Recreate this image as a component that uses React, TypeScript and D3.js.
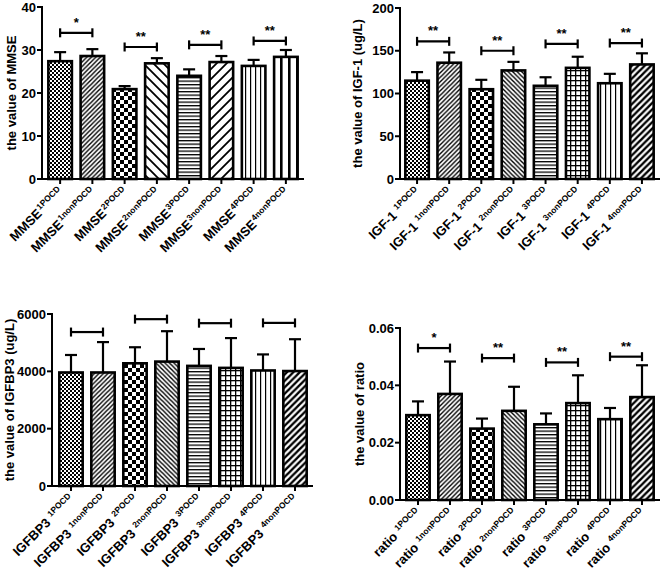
import React from "react";
import * as d3 from "d3";

const groups = ["1POCD", "1nonPOCD", "2POCD", "2nonPOCD", "3POCD", "3nonPOCD", "4POCD", "4nonPOCD"];

const mmseMean = [27.4, 28.6, 20.9, 26.9, 24.0, 27.2, 26.3, 28.4];
const mmseErr = [29.5, 30.2, 21.6, 28.1, 25.5, 28.6, 27.7, 30.0];
const mmseBrackets = [34.0, 30.7, 31.2, 32.1];
const mmseStars = ["*", "**", "**", "**"];
const mmseTicks = [0, 10, 20, 30, 40];

const igfMean = [115, 136, 105, 127, 109, 130, 112, 134];
const igfErr = [125, 148, 116, 137, 119, 143, 123, 147];
const igfBrackets = [161, 150, 158, 159];
const igfStars = ["**", "**", "**", "**"];
const igfTicks = [0, 50, 100, 150, 200];

const bp3Mean = [3960, 3960, 4280, 4340, 4190, 4120, 4030, 4010];
const bp3Err = [4570, 5020, 4840, 5400, 4780, 5160, 4590, 5120];
const bp3Brackets = [5370, 5820, 5680, 5690];
const bp3Stars = ["", "", "", ""];
const bp3Ticks = [0, 2000, 4000, 6000];

const ratioMean = [0.0296, 0.0370, 0.0249, 0.0311, 0.0264, 0.0338, 0.0282, 0.0359];
const ratioErr = [0.0344, 0.0483, 0.0284, 0.0395, 0.0302, 0.0435, 0.0321, 0.0470];
const ratioBrackets = [0.0530, 0.0495, 0.0480, 0.0500];
const ratioStars = ["*", "**", "**", "**"];
const ratioTicks = [0, 0.02, 0.04, 0.06];

const FONT = "'Liberation Sans', Arial, Helvetica, sans-serif";
const LABEL_SIZE = 13;
const SUP_SIZE = 8.5;
const R = Math.SQRT1_2;

const SUP_EM: Record<string, number> = {
  "1": 0.556, "2": 0.556, "3": 0.556, "4": 0.556, P: 0.667, O: 0.778, C: 0.722, D: 0.722, n: 0.611, o: 0.611,
};
function measure(text: string, size: number): number {
  let w = 0;
  for (const ch of text) w += SUP_EM[ch] ?? 0.6;
  return w * size;
}

type PanelProps = {
  id: string;
  prefix: string;
  sep: number;
  title: string;
  mean: number[];
  err: number[];
  brackets: number[];
  stars: string[];
  ticks: number[];
  fmt: (v: number) => string;
  axisX: number;
  x0: number;
  x1: number;
  yBottom: number;
  yTop: number;
  titleX: number;
  patterns: string[];
};

function Diag({ id, w, sw, back }: { id: string; w: number; sw: number; back?: boolean }) {
  const d = back
    ? `M${-w / 2},${w / 2} L${w / 2},${1.5 * w} M0,0 L${w},${w} M${w / 2},${-w / 2} L${1.5 * w},${w / 2}`
    : `M${-w / 2},${w / 2} L${w / 2},${-w / 2} M0,${w} L${w},0 M${w / 2},${1.5 * w} L${1.5 * w},${w / 2}`;
  return (
    <pattern id={id} width={w} height={w} patternUnits="userSpaceOnUse">
      <rect width={w} height={w} fill="#fff" />
      <path d={d} stroke="#000" strokeWidth={sw} fill="none" />
    </pattern>
  );
}

function Patterns({ id }: { id: string }) {
  return (
    <>
      <pattern id={`${id}-checkFine`} width={4} height={4} patternUnits="userSpaceOnUse">
        <rect width={4} height={4} fill="#fff" />
        <rect x={0} y={0} width={2} height={2} fill="#000" />
        <rect x={2} y={2} width={2} height={2} fill="#000" />
      </pattern>
      <pattern id={`${id}-checker`} width={8} height={8} patternUnits="userSpaceOnUse">
        <rect width={8} height={8} fill="#fff" />
        <rect x={0} y={0} width={4} height={4} fill="#000" />
        <rect x={4} y={4} width={4} height={4} fill="#000" />
      </pattern>
      <Diag id={`${id}-slashFine`} w={4.5} sw={1.4} />
      <Diag id={`${id}-backFine`} w={4.5} sw={1.4} back />
      <Diag id={`${id}-slashWide`} w={10} sw={1.8} />
      <Diag id={`${id}-backWide`} w={10} sw={1.8} back />
      <Diag id={`${id}-slashMed`} w={6.4} sw={2.4} />
      <pattern id={`${id}-horiz`} width={10} height={3.5} patternUnits="userSpaceOnUse">
        <rect width={10} height={3.5} fill="#fff" />
        <rect width={10} height={1.3} fill="#000" />
      </pattern>
      <pattern id={`${id}-grid`} width={5} height={5} patternUnits="userSpaceOnUse">
        <rect width={5} height={5} fill="#fff" />
        <rect width={5} height={1.3} fill="#000" />
        <rect width={1.3} height={5} fill="#000" />
      </pattern>
      <pattern id={`${id}-vert`} width={5} height={10} patternUnits="userSpaceOnUse">
        <rect width={5} height={10} fill="#fff" />
        <rect width={1.2} height={10} fill="#000" />
      </pattern>
      <pattern id={`${id}-vertWide`} width={8} height={10} patternUnits="userSpaceOnUse">
        <rect width={8} height={10} fill="#fff" />
        <rect width={2.6} height={10} fill="#000" />
      </pattern>
    </>
  );
}

function Panel(p: PanelProps) {
  const x = d3.scaleBand<string>().domain(groups).range([p.x0, p.x1]).paddingInner(0.27).paddingOuter(0.135);
  const y = d3.scaleLinear().domain([p.ticks[0], p.ticks[p.ticks.length - 1]]).range([p.yBottom, p.yTop]);
  const bw = x.bandwidth();
  const cx = (g: string) => (x(g) as number) + bw / 2;
  const midY = (p.yBottom + p.yTop) / 2;

  const labelPaths = groups.map((g) => {
    const ax = cx(g) + 4;
    const ay = p.yBottom + 14;
    const sx = ax - 5 * R;
    const sy = ay - 5 * R;
    const off = measure(g, SUP_SIZE) + p.sep;
    const mx = ax - off * R;
    const my = ay + off * R;
    const sup = `M${sx - 90 * R},${sy + 90 * R} L${sx},${sy}`;
    const main = `M${mx - 110 * R},${my + 110 * R} L${mx},${my}`;
    return { sup, main };
  });

  return (
    <g fontFamily={FONT} fontWeight="bold">
      <defs>
        <Patterns id={p.id} />
        {labelPaths.map((lp, i) => (
          <React.Fragment key={i}>
            <path id={`${p.id}-sp-${i}`} d={lp.sup} />
            <path id={`${p.id}-mp-${i}`} d={lp.main} />
          </React.Fragment>
        ))}
      </defs>
      {groups.map((g, i) => (
        <g key={g}>
          <line x1={cx(g)} x2={cx(g)} y1={y(p.mean[i])} y2={y(p.err[i])} stroke="#000" strokeWidth={2.2} />
          <line x1={cx(g) - 6} x2={cx(g) + 6} y1={y(p.err[i])} y2={y(p.err[i])} stroke="#000" strokeWidth={2.2} />
          <rect
            x={x(g)}
            y={y(p.mean[i])}
            width={bw}
            height={p.yBottom - y(p.mean[i])}
            fill={`url(#${p.id}-${p.patterns[i]})`}
            stroke="#000"
            strokeWidth={2.6}
          />
        </g>
      ))}
      {p.brackets.map((b, k) => {
        const a = cx(groups[2 * k]);
        const c = cx(groups[2 * k + 1]);
        const yy = y(b);
        return (
          <g key={k}>
            <g stroke="#000" strokeWidth={2.2}>
              <line x1={a} x2={c} y1={yy} y2={yy} />
              <line x1={a} x2={a} y1={yy - 4.5} y2={yy + 4.5} />
              <line x1={c} x2={c} y1={yy - 4.5} y2={yy + 4.5} />
            </g>
            {p.stars[k] && (
              <text x={(a + c) / 2} y={yy - 6} textAnchor="middle" fontSize={13} fill="#000">
                {p.stars[k]}
              </text>
            )}
          </g>
        );
      })}
      <line x1={p.axisX} x2={p.axisX} y1={p.yTop - 1} y2={p.yBottom} stroke="#000" strokeWidth={2} />
      {p.ticks.map((t) => (
        <g key={t}>
          <line x1={p.axisX - 5} x2={p.axisX} y1={y(t)} y2={y(t)} stroke="#000" strokeWidth={2} />
          <text x={p.axisX - 6} y={y(t)} dy="0.36em" textAnchor="end" fontSize={13} fill="#000">
            {p.fmt(t)}
          </text>
        </g>
      ))}
      <line x1={p.axisX - 1} x2={p.x1 + 2} y1={p.yBottom} y2={p.yBottom} stroke="#000" strokeWidth={2} />
      {groups.map((g) => (
        <line key={g} x1={cx(g)} x2={cx(g)} y1={p.yBottom} y2={p.yBottom + 5} stroke="#000" strokeWidth={2} />
      ))}
      {groups.map((g, i) => (
        <g key={"l" + g}>
          <text fontSize={LABEL_SIZE} fill="#000" textAnchor="end">
            <textPath href={`#${p.id}-mp-${i}`} startOffset="100%">
              {p.prefix}
            </textPath>
          </text>
          <text fontSize={SUP_SIZE} fill="#000" textAnchor="end">
            <textPath href={`#${p.id}-sp-${i}`} startOffset="100%">
              {g}
            </textPath>
          </text>
        </g>
      ))}
      <g transform={`translate(${p.titleX},${midY}) rotate(-90)`}>
        <text textAnchor="middle" fontSize={13} fill="#000">
          {p.title}
        </text>
      </g>
    </g>
  );
}

const patternsA = ["checkFine", "slashFine", "checker", "backWide", "horiz", "slashWide", "vert", "vertWide"];
const patternsB = ["checkFine", "slashFine", "checker", "backFine", "horiz", "grid", "vert", "slashMed"];

export default function App() {
  const f0 = (v: number) => d3.format("d")(v);
  const f2 = (v: number) => d3.format(".2f")(v);
  return (
    <svg width={662} height={575} style={{ position: "absolute", left: 0, top: 0, background: "#fff" }}>
      <rect width={662} height={575} fill="#fff" />
      <Panel id="p1" prefix="MMSE" sep={1} title="the value of MMSE" mean={mmseMean} err={mmseErr}
        brackets={mmseBrackets} stars={mmseStars} ticks={mmseTicks} fmt={f0}
        axisX={42} x0={44} x1={302} yBottom={179} yTop={7} titleX={16} patterns={patternsA} />
      <Panel id="p2" prefix="IGF-1" sep={4} title="the value of IGF-1 (ug/L)" mean={igfMean} err={igfErr}
        brackets={igfBrackets} stars={igfStars} ticks={igfTicks} fmt={f0}
        axisX={400} x0={401} x1={658} yBottom={179} yTop={8} titleX={362} patterns={patternsB} />
      <Panel id="p3" prefix="IGFBP3" sep={4} title="the value of IGFBP3 (ug/L)" mean={bp3Mean} err={bp3Err}
        brackets={bp3Brackets} stars={bp3Stars} ticks={bp3Ticks} fmt={f0}
        axisX={52} x0={55} x1={311} yBottom={486} yTop={314} titleX={14} patterns={patternsB} />
      <Panel id="p4" prefix="ratio" sep={4} title="the value of ratio" mean={ratioMean} err={ratioErr}
        brackets={ratioBrackets} stars={ratioStars} ticks={ratioTicks} fmt={f2}
        axisX={400} x0={402} x1={658} yBottom={500} yTop={328} titleX={364} patterns={patternsB} />
    </svg>
  );
}
